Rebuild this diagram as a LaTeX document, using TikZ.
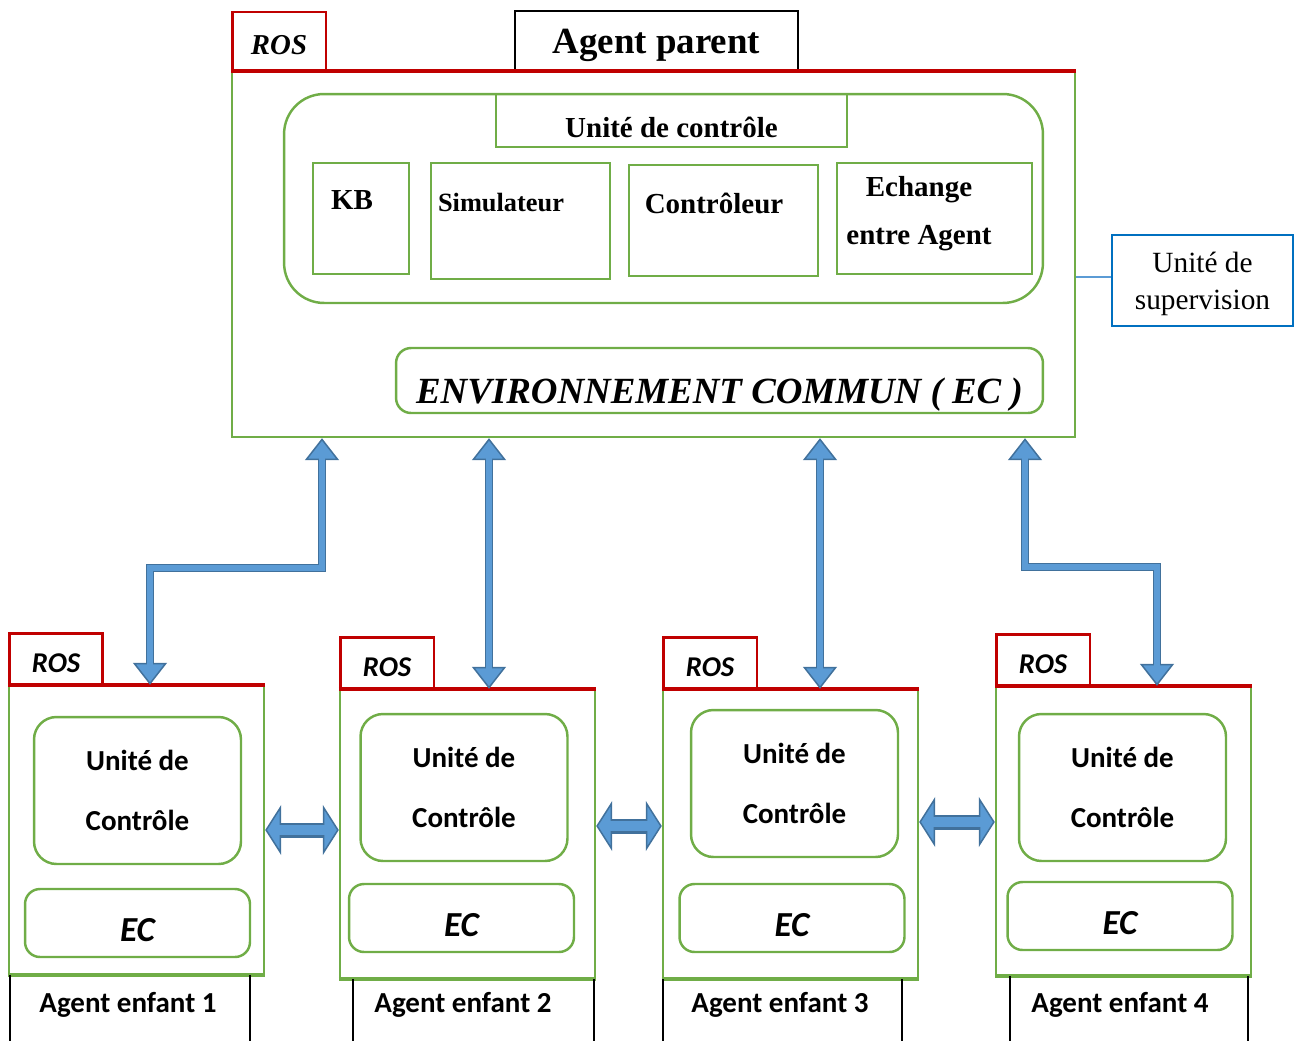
\documentclass[tikz,border=0pt]{standalone}
\usepackage{fontspec}
\setmainfont{Liberation Serif}
\newfontfamily\calibri{Carlito}
\usetikzlibrary{arrows.meta}
\definecolor{agreen}{RGB}{112,173,71}
\definecolor{ared}{RGB}{192,0,0}
\definecolor{ablue}{RGB}{0,112,192}
\definecolor{afill}{RGB}{91,155,213}
\definecolor{aedge}{RGB}{65,113,156}
\tikzset{
  gbox/.style={draw=agreen,line width=1.4pt,inner sep=0pt},
  rosbox/.style={draw=ared,line width=1.7pt,minimum width=1.88cm,text depth=0pt},
  redtop/.style={draw=ared,line width=2.2pt},
  tb/.style={font=\bfseries\fontsize{16.5}{20}\selectfont},
  kids/.style={font=\calibri\bfseries\fontsize{16.5}{34}\selectfont},
  fat/.style={draw=aedge,line width=0.17cm,
    {Triangle[width=0.68cm,length=0.44cm,line width=0.03cm,fill=afill]}-{Triangle[width=0.68cm,length=0.44cm,line width=0.03cm,fill=afill]}},
  fatin/.style={draw=afill,line width=0.11cm,shorten <=0.4cm,shorten >=0.4cm},
  wide/.style={draw=aedge,line width=0.3cm,
    {Triangle[width=1cm,length=0.32cm,line width=0.03cm,fill=afill]}-{Triangle[width=1cm,length=0.32cm,line width=0.03cm,fill=afill]}},
  wideins/.style={draw=afill,line width=0.2cm,shorten <=0.28cm,shorten >=0.28cm}
}
\begin{document}
\begin{tikzpicture}[x=0.02cm,y=-0.02cm]
  \useasboundingbox (0,0) rectangle (1295,1041);
  % agent parent
  \node[gbox,minimum width=16.86cm,minimum height=7.3cm] (main) at (653.5,254.5) {};
  \node[rosbox,minimum height=1.2cm,text height=14.5pt,font=\bfseries\itshape\fontsize{16.4}{20}\selectfont] (ros0) at (279,42) {ROS};
  \node[draw,line width=0.8pt,minimum width=5.66cm,minimum height=1.22cm,text depth=0pt,font=\bfseries\fontsize{21}{24}\selectfont] (title) at (656.5,41.5) {Agent parent};
  \draw[redtop,line width=2.6pt] (main.north west) -- (main.north east);
  \node[gbox,rounded corners=0.8cm,minimum width=15.18cm,minimum height=4.18cm] (ctrl) at (663.5,198.5) {};
  \node[gbox,tb,minimum width=7.02cm,minimum height=1.06cm,text height=18.9pt,text depth=0pt] (uct) at (671.5,120.5) {Unité de contrôle};
  \node[gbox,minimum width=1.92cm,minimum height=2.22cm] (kb) at (361,218.5) {};
  \node[tb] (kbt) at (352,200) {KB};
  \node[gbox,minimum width=3.58cm,minimum height=2.32cm] (sim) at (520.5,221) {};
  \node[font=\bfseries\fontsize{15}{18}\selectfont] (simt) at (501,203) {Simulateur};
  \node[gbox,minimum width=3.78cm,minimum height=2.22cm] (ctl) at (723.5,220.5) {};
  \node[tb] (ctlt) at (714,203) {Contrôleur};
  \node[gbox,minimum width=3.9cm,minimum height=2.22cm] (ech) at (934.5,218.5) {};
  \node[align=center,font=\bfseries\fontsize{16.5}{27.3}\selectfont] (echt) at (919,214) {Echange\\entre Agent};
  \node[gbox,rounded corners=0.3cm,minimum width=12.94cm,minimum height=1.3cm,text height=26pt,text depth=0pt,font=\bfseries\itshape\fontsize{21}{24}\selectfont] (ecp) at (719.5,380.5) {ENVIRONNEMENT COMMUN ( EC )};
  \node[draw=ablue,line width=1.4pt,minimum width=3.62cm,minimum height=1.82cm] (sup) at (1202.5,280.5) {};
  \node[align=center,font=\fontsize{16.7}{21}\selectfont] (supt) at (1202.5,284) {Unité de\\supervision};
  \draw[afill,line width=0.8pt] (sup.west |- 0,277) -- (main.east |- 0,277);
  % agents enfants
  \foreach \i/\lx/\ty/\ux/\uy/\ex/\ey/\la/\lb/\tx in {1/9/686/137.5/790.5/137.5/923/10/250/128,
      2/340/690/464/787.5/461.5/918/353/594/463,
      3/663/690/794.5/783.5/792/918/663/902/780,
      4/996/687/1122.5/787.5/1120/916/1010/1248/1120}{
    \node[gbox,minimum width=5.1cm,minimum height=5.76cm] (c\i) at (\lx+127.5,\ty+144) {};
    \draw[agreen,line width=2pt] (c\i.south west) -- (c\i.south east);
    \node[rosbox,minimum height=1.06cm,text height=15pt,font=\calibri\bfseries\itshape\fontsize{16.3}{20}\selectfont] (ros\i) at (\lx+47,\ty-26.5) {ROS};
    \draw[redtop] (c\i.north west) -- (c\i.north east);
    \node[gbox,kids,rounded corners=0.45cm,minimum width=4.14cm,minimum height=2.94cm,align=center] (uc\i) at (\ux,\uy) {Unité de\\Contrôle};
    \node[gbox,rounded corners=0.3cm,minimum width=4.5cm,minimum height=1.36cm,text height=21pt,text depth=0pt,font=\calibri\bfseries\itshape\fontsize{20}{24}\selectfont] (ec\i) at (\ex,\ey) {EC};
    \draw[line width=0.9pt] (\la,\ty+289) -- (\la,1045) (\lb,\ty+289) -- (\lb,1045);
    \node[kids] (lab\i) at (\tx,1005) {Agent enfant \i};
  }
  % liaisons
  \draw[fat] (main.south -| 322,0) |- (150,568) -- (c1.north -| 150,0);
  \draw[fatin] (main.south -| 322,0) |- (150,568) -- (c1.north -| 150,0);
  \draw[fat] (main.south -| 489,0) -- (c2.north -| 489,0);
  \draw[fatin] (main.south -| 489,0) -- (c2.north -| 489,0);
  \draw[fat] (main.south -| 820,0) -- (c3.north -| 820,0);
  \draw[fatin] (main.south -| 820,0) -- (c3.north -| 820,0);
  \draw[fat] (main.south -| 1025,0) |- (1157,567) -- (c4.north -| 1157,0);
  \draw[fatin] (main.south -| 1025,0) |- (1157,567) -- (c4.north -| 1157,0);
  \draw[wide] (c1.east) -- (c1.east -| c2.west);
  \draw[wideins] (c1.east) -- (c1.east -| c2.west);
  \draw[wide] (c2.east |- 0,826) -- (c3.west |- 0,826);
  \draw[wideins] (c2.east |- 0,826) -- (c3.west |- 0,826);
  \draw[wide] (c3.east |- 0,822) -- (c4.west |- 0,822);
  \draw[wideins] (c3.east |- 0,822) -- (c4.west |- 0,822);
\end{tikzpicture}
\end{document}
